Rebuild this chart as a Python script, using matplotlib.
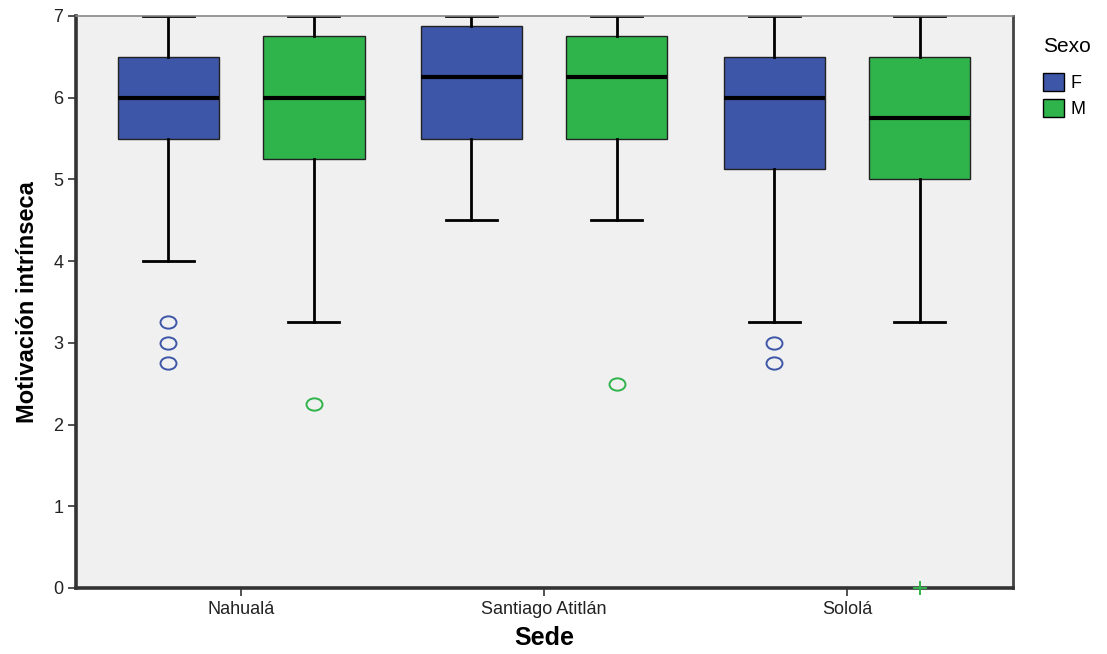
import matplotlib
matplotlib.use("Agg")
import matplotlib.pyplot as plt
from matplotlib.patches import Patch
from matplotlib.path import Path

plt.rcParams['font.family'] = ['Liberation Sans', 'DejaVu Sans']

sedes = ["Nahualá", "Santiago Atitlán", "Sololá"]
sexos = ["F", "M"]
colors = {"F": "#3E56A8", "M": "#2FB34B"}

# per sede: (whislo, q1, med, q3, whishi)
stats_F = [(4.0, 5.5, 6.0, 6.5, 7.0), (4.5, 5.5, 6.25, 6.875, 7.0), (3.25, 5.125, 6.0, 6.5, 7.0)]
stats_M = [(3.25, 5.25, 6.0, 6.75, 7.0), (4.5, 5.5, 6.25, 6.75, 7.0), (3.25, 5.0, 5.75, 6.5, 7.0)]
outliers_F = [[3.25, 3.0, 2.75], [], [3.0, 2.75]]
outliers_M = [[2.25], [2.5], []]
extremes_F = [[], [], []]
extremes_M = [[], [], [0.0]]

circ = Path.unit_circle()
ellipse = Path(circ.vertices * [1.3, 1.0], circ.codes)

fig = plt.figure(figsize=(11.07, 6.54), dpi=100)
ax = fig.add_axes([76/1107, 1-588/654, (1013-76)/1107, (588-16)/654])
ax.set_facecolor("#F0F0F0")

offset = 0.24
width = 0.335
for sexo, stats, outs, exts, dx in [("F", stats_F, outliers_F, extremes_F, -offset),
                                   ("M", stats_M, outliers_M, extremes_M, offset)]:
    bstats = []
    for s in stats:
        bstats.append(dict(whislo=s[0], q1=s[1], med=s[2], q3=s[3], whishi=s[4], fliers=[]))
    pos = [i + dx for i in range(len(sedes))]
    ax.bxp(bstats, positions=pos, widths=width, patch_artist=True, showfliers=False,
           boxprops=dict(facecolor=colors[sexo], edgecolor="#222222", linewidth=1.0),
           medianprops=dict(color="black", linewidth=3),
           whiskerprops=dict(color="black", linewidth=2),
           capprops=dict(color="black", linewidth=2), capwidths=width/2)
    for p, o in zip(pos, outs):
        if o:
            ax.plot([p]*len(o), o, linestyle="none", marker=ellipse, markersize=11.5,
                    markerfacecolor="none", markeredgecolor=colors[sexo], markeredgewidth=1.4,
                    zorder=4, clip_on=False)
    for p, e in zip(pos, exts):
        if e:
            ax.plot([p]*len(e), e, linestyle="none", marker="+", markersize=10,
                    markeredgecolor=colors[sexo], markeredgewidth=1.4, zorder=4, clip_on=False)

ax.set_xlim(-0.545, 2.548)
ax.set_ylim(0, 7)
ax.set_xticks(range(len(sedes)))
ax.set_xticklabels(sedes, fontsize=13, color="#222222")
ax.set_yticks(range(0, 8))
ax.set_yticklabels([str(i) for i in range(8)], fontsize=13, color="#222222")
ax.tick_params(axis="both", direction="out", length=6, width=1.2, color="#333333", pad=3)

for side in ["left", "bottom"]:
    ax.spines[side].set_linewidth(2.6)
    ax.spines[side].set_color("#333333")
ax.spines["right"].set_linewidth(2.0)
ax.spines["right"].set_color("#444444")
ax.spines["top"].set_linewidth(1.2)
ax.spines["top"].set_color("#888888")

ax.set_xlabel("Sede", fontsize=18, fontweight="bold", labelpad=6)
ax.set_ylabel("Motivación intrínseca", fontsize=17, fontweight="bold", labelpad=10)

handles = [Patch(facecolor=colors[s], edgecolor="black", label=s) for s in sexos]
leg = fig.legend(handles=handles, title="Sexo", loc="upper left",
                 bbox_to_anchor=(1036/1107, 1-30/654), frameon=False,
                 fontsize=13, title_fontsize=15, handlelength=1.15, handleheight=1.2,
                 handletextpad=0.35, labelspacing=0.35, borderaxespad=0)
leg._legend_box.align = "left"
leg._legend_box.sep = 12

fig.savefig("out.png", dpi=100)
